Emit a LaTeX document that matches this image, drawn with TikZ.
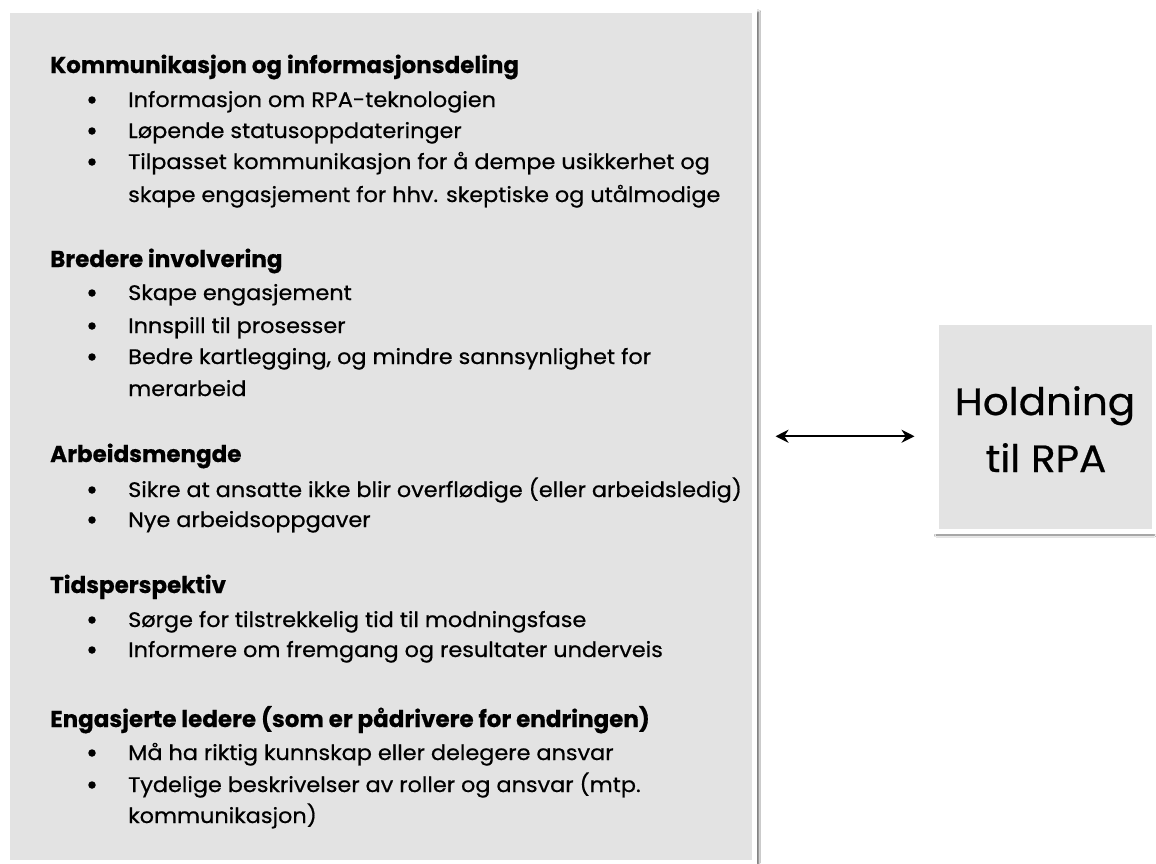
\documentclass[tikz,border=0pt]{standalone}
\usepackage{fontspec}
\setmainfont{Poppins}
\newfontfamily\itemfont{Poppins}[FakeStretch=1.065,FakeBold=0.6]
\newfontfamily\headfont{Poppins}[FakeStretch=1.0,FakeBold=0.5]
\usetikzlibrary{shadows.blur,arrows.meta}
\definecolor{boxgray}{RGB}{227,227,227}
\tikzset{
  panel/.style={fill=boxgray, draw=white, line width=5pt, inner sep=0pt, outer sep=0pt},
  head/.style={anchor=base west, inner sep=0pt, font=\headfont\fontsize{23}{27}\selectfont\bfseries},
  itemtext/.style={anchor=base west, inner sep=0pt, font=\itemfont\fontsize{21}{25}\selectfont},
  dot/.style={circle, fill=black, inner sep=0pt, minimum size=7.5pt},
  bigtext/.style={anchor=base, inner sep=0pt, font=\itemfont\fontsize{38}{46}\selectfont},
  conn/.style={line width=2.4pt, {Stealth[length=13pt,width=13pt]}-{Stealth[length=13pt,width=13pt]}}
}
\newcommand\myHead[3]{\node[head] (#1) at (50,#2) {#3};}
\newcommand\myBullet[3]{\node[dot] (#1d) at (92,#2-7) {};\node[itemtext] (#1) at (128,#2) {#3};}
\newcommand\myCont[3]{\node[itemtext] (#1) at (128,#2) {#3};}
\begin{document}
\begin{tikzpicture}[x=1pt,y=-1pt]
\useasboundingbox[fill=white] (0,0) rectangle (1156,863);
% panels
\node[panel, minimum width=747.5pt, minimum height=852.5pt,
      blur shadow={shadow xshift=4pt, shadow yshift=-2pt, shadow blur steps=6, shadow opacity=65}]
      (big) at (380.75,436.25) {};
\node[panel, minimum width=217.5pt, minimum height=208.5pt,
      blur shadow={shadow xshift=0pt, shadow yshift=-4pt, shadow blur steps=6, shadow opacity=55}]
      (small) at (1045.25,426.75) {};
% section 1
\myHead{h1}{73}{Kommunikasjon og informasjonsdeling}
\myBullet{a1}{107}{Informasjon om RPA-teknologien}
\myBullet{a2}{138}{Løpende statusoppdateringer}
\myBullet{a3}{169}{Tilpasset kommunikasjon for å dempe usikkerhet og}
\myCont{a3c}{202}{skape engasjement for hhv. skeptiske og utålmodige}
% section 2
\myHead{h2}{267}{Bredere involvering}
\myBullet{b1}{300}{Skape engasjement}
\myBullet{b2}{333}{Innspill til prosesser}
\myBullet{b3}{364}{Bedre kartlegging, og mindre sannsynlighet for}
\myCont{b3c}{396}{merarbeid}
% section 3
\myHead{h3}{462}{Arbeidsmengde}
\myBullet{c1}{497}{Sikre at ansatte ikke blir overflødige (eller arbeidsledig)}
\myBullet{c2}{527}{Nye arbeidsoppgaver}
% section 4
\myHead{h4}{593}{Tidsperspektiv}
\myBullet{d1}{627}{Sørge for tilstrekkelig tid til modningsfase}
\myBullet{d2}{657}{Informere om fremgang og resultater underveis}
% section 5
\myHead{h5}{727}{Engasjerte ledere (som er pådrivere for endringen)}
\myBullet{e1}{760}{Må ha riktig kunnskap eller delegere ansvar}
\myBullet{e2}{792}{Tydelige beskrivelser av roller og ansvar (mtp.}
\myCont{e2c}{823}{kommunikasjon)}
% right box text
\node[bigtext] (t1) at (1045,415) {Holdning};
\node[bigtext] (t2) at (1046,472) {til RPA};
% connector
\draw[conn, shorten <=21pt, shorten >=22pt] (big.east) -- (big.east -| small.west);
\end{tikzpicture}
\end{document}
